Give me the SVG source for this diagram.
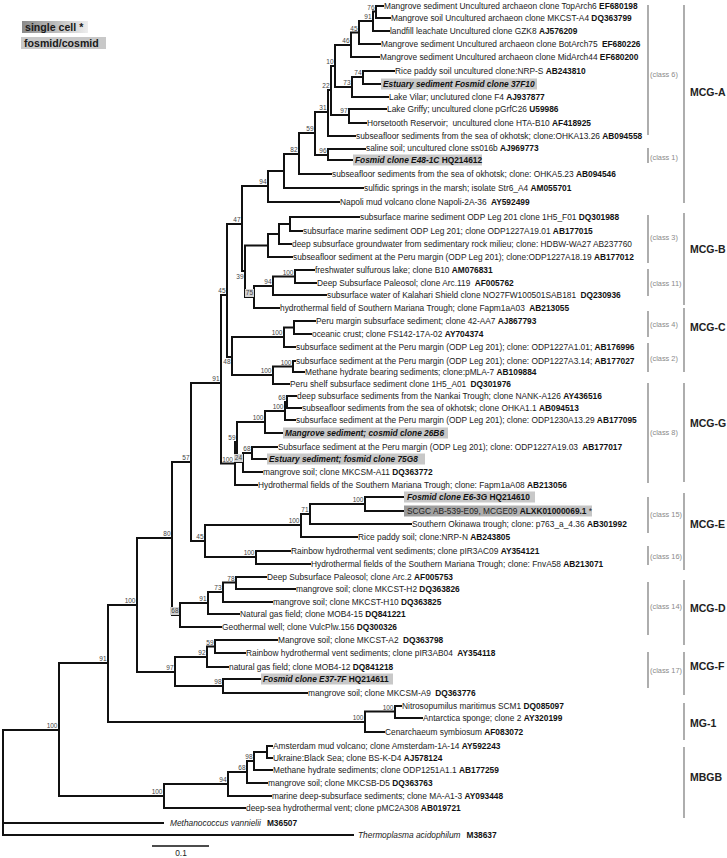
<svg xmlns="http://www.w3.org/2000/svg" width="727" height="858" viewBox="0 0 727 858">
<defs>
<linearGradient id="gcell" x1="0" y1="0" x2="1" y2="0"><stop offset="0" stop-color="#8a8a8a"/><stop offset="1" stop-color="#eeeeee"/></linearGradient>
<linearGradient id="gscgc" x1="0" y1="0" x2="1" y2="0"><stop offset="0" stop-color="#9a9a9a"/><stop offset="1" stop-color="#c6c6c6"/></linearGradient>
</defs>
<style>
text{font-family:"Liberation Sans",Arial,Helvetica,sans-serif}
.t{font-size:8.35px;fill:#222}
.b{font-weight:bold;fill:#111}
.bi{font-weight:bold;font-style:italic;fill:#111}
.i{font-style:italic}
.bs{font-size:6.5px;fill:#444;text-anchor:end}
.cl{font-size:7.4px;fill:#8a8a8a}
.cd{font-size:10.5px;font-weight:bold;fill:#222}
.hl{fill:#c8c8c8}
.bx{fill:#d2d2d2}
.br{stroke:#9a9a9a;stroke-width:1.6;fill:none}
.tree{stroke:#111;stroke-width:2;fill:none;stroke-linecap:square}
.lg{font-size:10.6px;font-weight:bold;fill:#1a1a1a}
</style>
<rect width="727" height="858" fill="#fff"/>

<g id="legend">
<rect x="22" y="21" width="66" height="12" fill="url(#gcell)"/>
<text class="lg" x="25" y="31">single cell *</text>
<rect x="21" y="37" width="85" height="12" class="hl"/>
<text class="lg" x="24" y="47">fosmid/cosmid</text>
</g>

<g id="connectors">
<path class="tree" d="
M3 730V835 M3 730H59 M3 823H163 M3 835H353
M59 663V796 M59 663H108 M59 796H164
M108 605V722 M108 605H137 M108 722H365
M137 538V672 M137 538H172 M137 672H175
M172 462V615 M172 462H191 M172 615H180
M191 383V541 M191 383H221 M191 541H205
M221 295V463.5 M221 295H227 M221 463.5H235
M227 224V357 M227 224H242 M227 357H232
M242 186V271 M242 186H268 M242 271H245
M268 171V202 M268 171H284 M268 202H339
M284 154V188 M284 154H299 M284 188H363
M299 133V174 M299 133H315 M299 174H331
M315 112V155 M315 112H328 M315 155H328
M328 90V136 M328 90H331 M328 136H355
M331 66V115 M331 66H335 M331 115H349
M335 45V87 M335 45H351 M335 87H352
M351 32.5V57 M351 32.5H359 M351 57H379
M359 21V44 M359 21H373 M359 44H380
M373 11.5V31 M373 11.5H376 M373 31H389
M376 6V18 M376 6H383 M376 18H390
M352 77V97 M352 77H363 M352 97H388
M363 71V84 M363 71H394 M363 84H381
M349 109V123 M349 109H386 M349 123H366
M328 149V160 M328 149H365 M328 160H353
M245 245.5V297 M245 245.5H268 M245 297H254
M268 234V257 M268 234H279 M268 257H292
M279 224V244 M279 224H290 M279 244H291
M290 217V231 M290 217H359 M290 231H302
M254 286V308 M254 286H273 M254 308H279
M273 276.5V295 M273 276.5H295 M273 295H326
M295 270V283 M295 270H314 M295 283H316
M232 337V375 M232 337H284 M232 375H273
M284 327.5V347 M284 327.5H294 M284 347H295
M294 321V334 M294 321H315 M294 334H311
M273 366.5V384 M273 366.5H293 M273 384H289
M293 361V372 M293 361H295 M293 372H304
M235 442V485 M235 442H237 M235 485H257
M237 422V462 M237 422H265 M237 462H243
M265 411V433 M265 411H285 M265 433H283
M285 402V420 M285 402H287 M285 420H295
M287 396V408 M287 396H296 M287 408H301
M243 453V472 M243 453H252 M243 472H262
M252 447V459 M252 447H277 M252 459H267
M205 525V557 M205 525H301 M205 557H256
M301 514V537 M301 514H310 M301 537H357
M310 504V524 M310 504H365 M310 524H411
M365 497V511 M365 497H404 M365 511H404
M256 551V564 M256 551H290 M256 564H310
M180 603V627 M180 603H208 M180 627H221
M208 592V614 M208 592H223 M208 614H239
M223 582.5V602 M223 582.5H236 M223 602H272
M236 577V589 M236 577H266 M236 589H295
M175 657V686 M175 657H207 M175 686H223
M207 646.5V667 M207 646.5H215 M207 667H228
M215 640V653 M215 640H277 M215 653H245
M223 679V693 M223 679H261 M223 693H307
M365 711.5V732 M365 711.5H395 M365 732H384
M395 706V718 M395 706H401 M395 718H422
M164 784V808 M164 784H228 M164 808H245
M228 772V796 M228 772H247 M228 796H271
M247 761V783 M247 761H254 M247 783H267
M254 752V770 M254 752H267 M254 770H272
M267 746V758 M267 746H272 M267 758H272
"/>
</g>

<g id="bootstrap">
<rect class="bx" x="245" y="289" width="9" height="8"/>
<rect class="bx" x="234" y="454" width="9" height="8"/>
<rect class="bx" x="170" y="607" width="9" height="8"/>
<text class="bs" x="374.5" y="9.5">76</text>
<text class="bs" x="371.5" y="19">91</text>
<text class="bs" x="357.5" y="30.5">45</text>
<text class="bs" x="349.5" y="43">46</text>
<text class="bs" x="333.5" y="64">10</text>
<text class="bs" x="361.5" y="75">74</text>
<text class="bs" x="350.5" y="85">73</text>
<text class="bs" x="347.5" y="113">97</text>
<text class="bs" x="329.5" y="88">22</text>
<text class="bs" x="326.5" y="110">31</text>
<text class="bs" x="326.5" y="153">96</text>
<text class="bs" x="313.5" y="131">59</text>
<text class="bs" x="297.5" y="152">82</text>
<text class="bs" x="266.5" y="184">94</text>
<text class="bs" x="240.5" y="222">47</text>
<text class="bs" x="243.5" y="279">39</text>
<text class="bs" x="293.5" y="274.5">100</text>
<text class="bs" x="271.5" y="284">94</text>
<text class="bs" x="253" y="295">75</text>
<text class="bs" x="225.5" y="293">45</text>
<text class="bs" x="219.5" y="381">91</text>
<text class="bs" x="282.5" y="335">100</text>
<text class="bs" x="291.5" y="364.5">100</text>
<text class="bs" x="271.5" y="373">100</text>
<text class="bs" x="230.5" y="364">48</text>
<text class="bs" x="285.5" y="400">68</text>
<text class="bs" x="283.5" y="409">100</text>
<text class="bs" x="263.5" y="420">100</text>
<text class="bs" x="235.5" y="440">59</text>
<text class="bs" x="233" y="461.5">100</text>
<text class="bs" x="250.5" y="451">68</text>
<text class="bs" x="242" y="460">24</text>
<text class="bs" x="189.5" y="460">57</text>
<text class="bs" x="299.5" y="523">100</text>
<text class="bs" x="308.5" y="512">71</text>
<text class="bs" x="363.5" y="502">100</text>
<text class="bs" x="203.5" y="539">45</text>
<text class="bs" x="254.5" y="555">100</text>
<text class="bs" x="170.5" y="536">80</text>
<text class="bs" x="234.5" y="581">78</text>
<text class="bs" x="221.5" y="590">73</text>
<text class="bs" x="206.5" y="601">91</text>
<text class="bs" x="178.5" y="613">68</text>
<text class="bs" x="135.5" y="603">100</text>
<text class="bs" x="213.5" y="644.5">59</text>
<text class="bs" x="205.5" y="655">92</text>
<text class="bs" x="173.5" y="670">97</text>
<text class="bs" x="221.5" y="684">98</text>
<text class="bs" x="106.5" y="661">91</text>
<text class="bs" x="393.5" y="709.5">100</text>
<text class="bs" x="363.5" y="720">100</text>
<text class="bs" x="57.5" y="728">100</text>
<text class="bs" x="162.5" y="794">100</text>
<text class="bs" x="226.5" y="782">94</text>
<text class="bs" x="245.5" y="770">68</text>
<text class="bs" x="252.5" y="759">98</text>
</g>

<g id="L01"><text class="t" x="384" y="9">Mangrove sediment Uncultured archaeon clone TopArch6 <tspan class="b">EF680198</tspan></text></g>
<g id="L02"><text class="t" x="391" y="21">Mangrove soil Uncultured archaeon clone MKCST-A4 <tspan class="b">DQ363799</tspan></text></g>
<g id="L03"><text class="t" x="390" y="34">landfill leachate Uncultured clone GZK8 <tspan class="b">AJ576209</tspan></text></g>
<g id="L04"><text class="t" x="381" y="47">Mangrove sediment Uncultured archaeon clone BotArch75 <tspan class="b" dx="2">EF680226</tspan></text></g>
<g id="L05"><text class="t" x="380" y="60">Mangrove sediment Uncultured archaeon clone MidArch44 <tspan class="b">EF680200</tspan></text></g>
<g id="L06"><text class="t" x="395" y="74">Rice paddy soil uncultured clone:NRP-S <tspan class="b">AB243810</tspan></text></g>
<g id="L07"><rect class="hl" x="381" y="78.5" width="156" height="11"/><text class="t bi" x="383" y="87">Estuary sediment Fosmid clone 37F10</text></g>
<g id="L08"><text class="t" x="389" y="100">Lake Vilar;  unclutured clone F4 <tspan class="b">AJ937877</tspan></text></g>
<g id="L09"><text class="t" x="387" y="112">Lake Griffy; uncultured clone pGrfC26 <tspan class="b">U59986</tspan></text></g>
<g id="L10"><text class="t" x="367" y="126">Horsetooth Reservoir; <tspan dx="2">uncultured clone HTA-B10 </tspan><tspan class="b">AF418925</tspan></text></g>
<g id="L11"><text class="t" x="356" y="139">subseafloor sediments from the sea of okhotsk; clone:OHKA13.26 <tspan class="b">AB094558</tspan></text></g>
<g id="L12"><text class="t" x="366" y="151">saline soil; uncultured clone ss016b <tspan class="b">AJ969773</tspan></text></g>
<g id="L13"><rect class="hl" x="353" y="154.5" width="129" height="11"/><text class="t" x="355" y="163"><tspan class="bi">Fosmid clone E48-1C</tspan> <tspan class="b">HQ214612</tspan></text></g>
<g id="L14"><text class="t" x="332" y="177">subseafloor sediments from the sea of okhotsk; clone: OHKA5.23 <tspan class="b">AB094546</tspan></text></g>
<g id="L15"><text class="t" x="364" y="191">sulfidic springs in the marsh; isolate Str6_A4 <tspan class="b">AM055701</tspan></text></g>
<g id="L16"><text class="t" x="340" y="205">Napoli mud volcano clone Napoli-2A-36 <tspan class="b" dx="2">AY592499</tspan></text></g>
<g id="L17"><text class="t" x="360" y="220">subsurface marine sediment ODP Leg 201 clone 1H5_F01 <tspan class="b">DQ301988</tspan></text></g>
<g id="L18"><text class="t" x="303" y="234">subsurface marine sediment ODP Leg 201; clone ODP1227A19.01 <tspan class="b">AB177015</tspan></text></g>
<g id="L19"><text class="t" x="292" y="247">deep subsurface groundwater from sedimentary rock milieu; clone: HDBW-WA27 AB237760</text></g>
<g id="L20"><text class="t" x="293" y="260">subseafloor sediment at the Peru margin (ODP Leg 201); clone:ODP1227A18.19 <tspan class="b">AB177012</tspan></text></g>
<g id="L21"><text class="t" x="315" y="273">freshwater sulfurous lake; clone B10 <tspan class="b">AM076831</tspan></text></g>
<g id="L22"><text class="t" x="317" y="286">Deep Subsurface Paleosol; clone Arc.119 <tspan class="b" dx="2">AF005762</tspan></text></g>
<g id="L23"><text class="t" x="327" y="298">subsurface water of Kalahari Shield clone NO27FW100501SAB181 <tspan class="b" dx="2">DQ230936</tspan></text></g>
<g id="L24"><text class="t" x="280" y="311">hydrothermal field of Southern Mariana Trough; clone Fapm1aA03 <tspan class="b" dx="2">AB213055</tspan></text></g>
<g id="L25"><text class="t" x="316" y="324">Peru margin subsurface sediment; clone 42-AA7 <tspan class="b">AJ867793</tspan></text></g>
<g id="L26"><text class="t" x="312" y="337">oceanic crust; clone FS142-17A-02 <tspan class="b">AY704374</tspan></text></g>
<g id="L27"><text class="t" x="296" y="350">subsurface sediment at the Peru margin (ODP Leg 201); clone: ODP1227A1.01; <tspan class="b">AB176996</tspan></text></g>
<g id="L28"><text class="t" x="296" y="364">subsurface sediment at the Peru margin (ODP Leg 201); clone: ODP1227A3.14; <tspan class="b">AB177027</tspan></text></g>
<g id="L29"><text class="t" x="305" y="375">Methane hydrate bearing sediments; clone:pMLA-7 <tspan class="b">AB109884</tspan></text></g>
<g id="L30"><text class="t" x="290" y="387">Peru shelf subsurface sediment clone 1H5_A01 <tspan class="b" dx="2">DQ301976</tspan></text></g>
<g id="L31"><text class="t" x="297" y="399">deep subsurface sediments from the Nankai Trough; clone NANK-A126 <tspan class="b">AY436516</tspan></text></g>
<g id="L32"><text class="t" x="302" y="411">subseafloor sediments from the sea of okhotsk; clone OHKA1.1 <tspan class="b">AB094513</tspan></text></g>
<g id="L33"><text class="t" x="296" y="423">subsurface sediment at the Peru margin (ODP Leg 201); clone: ODP1230A13.29 <tspan class="b">AB177095</tspan></text></g>
<g id="L34"><rect class="hl" x="283" y="427.5" width="165" height="11"/><text class="t bi" x="285" y="436">Mangrove sediment; cosmid clone 26B6</text></g>
<g id="L35"><text class="t" x="278" y="450">Subsurface sediment at the Peru margin (ODP Leg 201); clone: ODP1227A19.03 <tspan class="b" dx="2">AB177017</tspan></text></g>
<g id="L36"><rect class="hl" x="267" y="453.5" width="158" height="11"/><text class="t bi" x="269" y="462">Estuary sediment; fosmid clone 75G8</text></g>
<g id="L37"><text class="t" x="263" y="475">mangrove soil; clone MKCSM-A11 <tspan class="b">DQ363772</tspan></text></g>
<g id="L38"><text class="t" x="258" y="488">Hydrothermal fields of the Southern Mariana Trough; clone: Fapm1aA08 <tspan class="b">AB213056</tspan></text></g>
<g id="L39"><rect class="hl" x="404" y="491.5" width="131" height="11"/><text class="t" x="407" y="500"><tspan class="bi">Fosmid clone E6-3G</tspan> <tspan class="b">HQ214610</tspan></text></g>
<g id="L40"><rect x="404" y="505.5" width="188" height="11" fill="url(#gscgc)"/><text class="t" x="407" y="514">SCGC AB-539-E09, MCGE09 <tspan class="b">ALXK01000069.1</tspan> *</text></g>
<g id="L41"><text class="t" x="412" y="527">Southern Okinawa trough; clone: p763_a_4.36 <tspan class="b">AB301992</tspan></text></g>
<g id="L42"><text class="t" x="358" y="540">Rice paddy soil; clone:NRP-N <tspan class="b">AB243805</tspan></text></g>
<g id="L43"><text class="t" x="291" y="554">Rainbow hydrothermal vent sediments; clone pIR3AC09 <tspan class="b">AY354121</tspan></text></g>
<g id="L44"><text class="t" x="311" y="567">Hydrothermal fields of the Southern Mariana Trough; clone: FnvA58 <tspan class="b">AB213071</tspan></text></g>
<g id="L45"><text class="t" x="267" y="580">Deep Subsurface Paleosol; clone Arc.2 <tspan class="b">AF005753</tspan></text></g>
<g id="L46"><text class="t" x="296" y="592">mangrove soil; clone MKCST-H2 <tspan class="b">DQ363826</tspan></text></g>
<g id="L47"><text class="t" x="273" y="605">mangrove soil; clone MKCST-H10 <tspan class="b">DQ363825</tspan></text></g>
<g id="L48"><text class="t" x="240" y="617">Natural gas field; clone MOB4-15 <tspan class="b">DQ841221</tspan></text></g>
<g id="L49"><text class="t" x="222" y="630">Geothermal well; clone VulcPlw.156 <tspan class="b">DQ300326</tspan></text></g>
<g id="L50"><text class="t" x="278" y="643">Mangrove soil; clone MKCST-A2 <tspan class="b" dx="2">DQ363798</tspan></text></g>
<g id="L51"><text class="t" x="246" y="656">Rainbow hydrothermal vent sediments; clone pIR3AB04 <tspan class="b" dx="2">AY354118</tspan></text></g>
<g id="L52"><text class="t" x="229" y="670">natural gas field; clone MOB4-12 <tspan class="b">DQ841218</tspan></text></g>
<g id="L53"><rect class="hl" x="261" y="673.5" width="132" height="11"/><text class="t" x="263" y="682"><tspan class="bi">Fosmid clone E37-7F</tspan> <tspan class="b">HQ214611</tspan></text></g>
<g id="L54"><text class="t" x="308" y="696">mangrove soil; clone MKCSM-A9 <tspan class="b" dx="2">DQ363776</tspan></text></g>
<g id="L55"><text class="t" x="402" y="709">Nitrosopumilus maritimus SCM1 <tspan class="b">DQ085097</tspan></text></g>
<g id="L56"><text class="t" x="423" y="721">Antarctica sponge; clone 2 <tspan class="b">AY320199</tspan></text></g>
<g id="L57"><text class="t" x="385" y="735">Cenarchaeum symbiosum <tspan class="b">AF083072</tspan></text></g>
<g id="L58"><text class="t" x="273" y="749">Amsterdam mud volcano; clone Amsterdam-1A-14 <tspan class="b">AY592243</tspan></text></g>
<g id="L59"><text class="t" x="273" y="761">Ukraine:Black Sea; clone BS-K-D4 <tspan class="b">AJ578124</tspan></text></g>
<g id="L60"><text class="t" x="273" y="773">Methane hydrate sediments; clone ODP1251A1.1 <tspan class="b">AB177259</tspan></text></g>
<g id="L61"><text class="t" x="268" y="786">mangrove soil; clone MKCSB-D5 <tspan class="b">DQ363763</tspan></text></g>
<g id="L62"><text class="t" x="272" y="799">marine deep-subsurface sediments; clone MA-A1-3 <tspan class="b">AY093448</tspan></text></g>
<g id="L63"><text class="t" x="246" y="811">deep-sea hydrothermal vent; clone pMC2A308 <tspan class="b">AB019721</tspan></text></g>
<g id="L64"><text class="t" x="170" y="826"><tspan class="i">Methanococcus vannielii</tspan><tspan class="b" dx="6">M36507</tspan></text></g>
<g id="L65"><text class="t" x="358" y="838"><tspan class="i">Thermoplasma acidophilum</tspan><tspan class="b" dx="6">M38637</tspan></text></g>

<g id="scalebar">
<line x1="152" y1="846" x2="209" y2="846" stroke="#111" stroke-width="1.5"/>
<text class="t" x="181" y="856" text-anchor="middle">0.1</text>
</g>

<g id="classes">
<path class="br" d="M648 5V135 M648 148V163 M648 215V263 M648 269V296 M648 311V337 M648 343V372 M648 383V483 M648 497V533 M648 546V565 M648 582V635 M648 652V688"/>
<text class="cl" x="650" y="77">(class 6)</text>
<text class="cl" x="650" y="160">(class 1)</text>
<text class="cl" x="650" y="240">(class 3)</text>
<text class="cl" x="650" y="286">(class 11)</text>
<text class="cl" x="650" y="327">(class 4)</text>
<text class="cl" x="650" y="361">(class 2)</text>
<text class="cl" x="650" y="435">(class 8)</text>
<text class="cl" x="650" y="517">(class 15)</text>
<text class="cl" x="650" y="559">(class 16)</text>
<text class="cl" x="650" y="609">(class 14)</text>
<text class="cl" x="650" y="673">(class 17)</text>
</g>

<g id="clades">
<path class="br" d="M684 5V203 M684 213V305 M684 308V372 M684 383V482 M684 493V570 M684 580V645 M684 652V695 M684 703V740 M684 747V818"/>
<text class="cd" x="690" y="96">MCG-A</text>
<text class="cd" x="690" y="253">MCG-B</text>
<text class="cd" x="690" y="331">MCG-C</text>
<text class="cd" x="690" y="427">MCG-G</text>
<text class="cd" x="690" y="528">MCG-E</text>
<text class="cd" x="690" y="612">MCG-D</text>
<text class="cd" x="690" y="670">MCG-F</text>
<text class="cd" x="690" y="727">MG-1</text>
<text class="cd" x="690" y="781">MBGB</text>
</g>
</svg>
